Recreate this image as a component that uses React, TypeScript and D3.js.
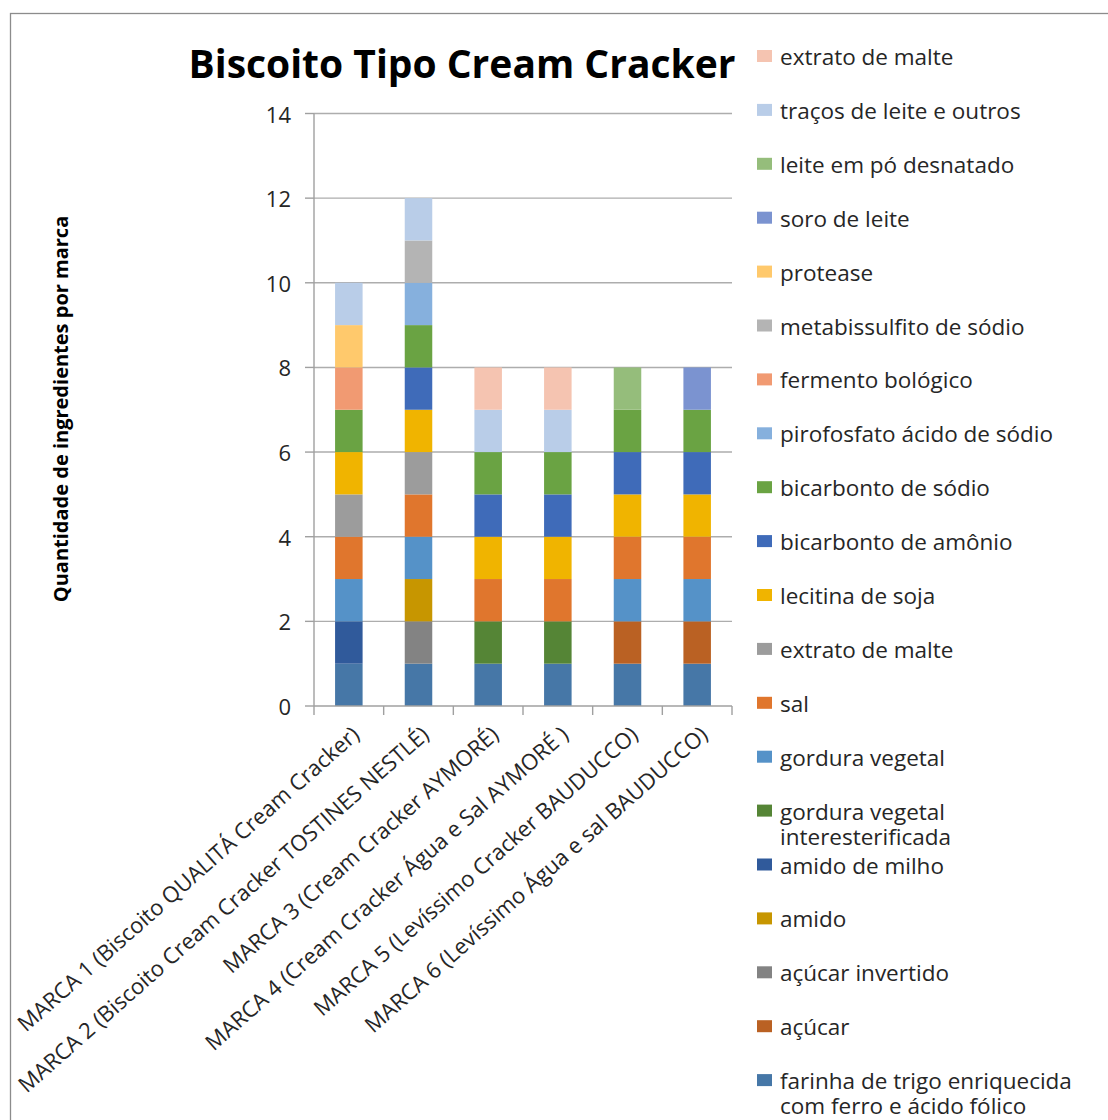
import React from "react";
import * as d3 from "d3";

const brands = [
  "MARCA 1 (Biscoito QUALITÁ Cream Cracker)",
  "MARCA 2 (Biscoito Cream Cracker TOSTINES NESTLÉ)",
  "MARCA 3 (Cream Cracker AYMORÉ)",
  "MARCA 4 (Cream Cracker Água e Sal AYMORÉ )",
  "MARCA 5 (Levíssimo Cracker BAUDUCCO)",
  "MARCA 6 (Levíssimo Água e sal BAUDUCCO)",
];

// stack order: bottom -> top
const seriesNames = [
  "farinha de trigo enriquecida\ncom ferro e ácido fólico",
  "açúcar",
  "açúcar invertido",
  "amido",
  "amido de milho",
  "gordura vegetal\ninteresterificada",
  "gordura vegetal",
  "sal",
  "extrato de malte",
  "lecitina de soja",
  "bicarbonto de amônio",
  "bicarbonto de sódio",
  "pirofosfato ácido de sódio",
  "fermento bológico",
  "metabissulfito de sódio",
  "protease",
  "soro de leite",
  "leite em pó desnatado",
  "traços de leite e outros",
  "extrato de malte",
];

const seriesColors = [
  "#4677A7",
  "#BA6123",
  "#838383",
  "#C79600",
  "#305A9B",
  "#558536",
  "#5592C8",
  "#E0762D",
  "#9C9C9C",
  "#F0B400",
  "#3F6BB9",
  "#6AA343",
  "#86B0DD",
  "#F19A72",
  "#B4B4B4",
  "#FFC96C",
  "#7B93D0",
  "#95BD7B",
  "#B9CDE8",
  "#F5C4B1",
];

const farinha = [1, 1, 1, 1, 1, 1];
const acucar = [0, 0, 0, 0, 1, 1];
const acucarInvertido = [0, 1, 0, 0, 0, 0];
const amido = [0, 1, 0, 0, 0, 0];
const amidoMilho = [1, 0, 0, 0, 0, 0];
const gorduraInter = [0, 0, 1, 1, 0, 0];
const gordura = [1, 1, 0, 0, 1, 1];
const sal = [1, 1, 1, 1, 1, 1];
const extratoMalteCinza = [1, 1, 0, 0, 0, 0];
const lecitina = [1, 1, 1, 1, 1, 1];
const bicAmonio = [0, 1, 1, 1, 1, 1];
const bicSodio = [1, 1, 1, 1, 1, 1];
const pirofosfato = [0, 1, 0, 0, 0, 0];
const fermento = [1, 0, 0, 0, 0, 0];
const metabissulfito = [0, 1, 0, 0, 0, 0];
const protease = [1, 0, 0, 0, 0, 0];
const soro = [0, 0, 0, 0, 0, 1];
const leitePo = [0, 0, 0, 0, 1, 0];
const tracos = [1, 1, 1, 1, 0, 0];
const extratoMalte = [0, 0, 1, 1, 0, 0];

const seriesValues = [
  farinha, acucar, acucarInvertido, amido, amidoMilho, gorduraInter, gordura, sal,
  extratoMalteCinza, lecitina, bicAmonio, bicSodio, pirofosfato, fermento,
  metabissulfito, protease, soro, leitePo, tracos, extratoMalte,
];

const yTicks = [0, 2, 4, 6, 8, 10, 12, 14];

const FONT = "'Open Sans', 'Noto Sans', sans-serif";

export default function App() {
  const W = 1108;
  const H = 1120;
  const plotL = 314;
  const plotR = 732;
  const plotB = 706;
  const plotT = 113.5;

  const x = d3.scaleBand<string>().domain(brands).range([plotL, plotR]).padding(0);
  const y = d3.scaleLinear().domain([0, 14]).range([plotB, plotT]);
  const barW = x.bandwidth() * 0.395;

  const rows = brands.map((b, i) => {
    const r: Record<string, number | string> = { brand: b };
    seriesValues.forEach((vals, k) => (r["s" + k] = vals[i]));
    return r;
  });
  const keys = seriesValues.map((_, k) => "s" + k);
  const stacked = d3.stack<any>().keys(keys)(rows as any);

  const legendOrder = seriesNames.map((_, k) => k).reverse();
  const legY0 = 56;
  const legStep = 53.9;

  return (
    <svg
      width={W}
      height={H}
      style={{ position: "absolute", left: 0, top: 0, background: "#fff" }}
      fontFamily={FONT}
    >
      <rect x={10.5} y={13.5} width={W + 10} height={H + 10} fill="#fff" stroke="#8C8C8C" strokeWidth={1.3} />

      {/* gridlines */}
      {yTicks.filter((t) => t > 0).map((t) => (
        <line key={t} x1={plotL} x2={plotR} y1={y(t)} y2={y(t)} stroke="#ADADAD" strokeWidth={1.4} />
      ))}

      {/* bars */}
      {stacked.map((layer, k) => (
        <g key={k} fill={seriesColors[k]}>
          {layer.map((d, i) =>
            d[1] - d[0] > 0 ? (
              <rect
                key={i}
                x={(x(brands[i]) as number) + x.bandwidth() / 2 - barW / 2}
                y={y(d[1])}
                width={barW}
                height={y(d[0]) - y(d[1])}
              />
            ) : null
          )}
        </g>
      ))}

      {/* axes */}
      <line x1={plotL} x2={plotL} y1={plotT} y2={plotB} stroke="#A0A0A0" strokeWidth={1.4} />
      <line x1={plotL} x2={plotR} y1={plotB} y2={plotB} stroke="#A0A0A0" strokeWidth={1.4} />
      {yTicks.map((t) => (
        <g key={t}>
          <line x1={plotL - 9} x2={plotL} y1={y(t)} y2={y(t)} stroke="#A0A0A0" strokeWidth={1.4} />
          <text x={291} y={y(t)} textAnchor="end" dominantBaseline="central" fontSize={22} fill="#262626">
            {t}
          </text>
        </g>
      ))}
      {[...brands.map((b) => x(b) as number), plotR].map((px, i) => (
        <line key={i} x1={px} x2={px} y1={plotB} y2={plotB + 9} stroke="#A0A0A0" strokeWidth={1.4} />
      ))}

      {/* x labels */}
      {brands.map((b) => {
        const cx = (x(b) as number) + x.bandwidth() / 2 + 6;
        return (
          <text
            key={b}
            transform={`translate(${cx},${plotB + 24}) rotate(-41.5)`}
            textAnchor="end"
            dominantBaseline="central"
            fontSize={22}
            fill="#262626"
          >
            {b}
          </text>
        );
      })}

      {/* y title */}
      <text
        transform={`translate(60,409) rotate(-90)`}
        textAnchor="middle"
        dominantBaseline="central"
        fontSize={20}
        fontWeight="bold"
        fill="#000"
      >
        Quantidade de ingredientes por marca
      </text>

      {/* title */}
      <text x={462} y={62} textAnchor="middle" dominantBaseline="central" fontSize={39} fontWeight="bold" fill="#000">
        Biscoito Tipo Cream Cracker
      </text>

      {/* legend */}
      {legendOrder.map((k, i) => {
        const cy = legY0 + i * legStep;
        const lines = seriesNames[k].split("\n");
        return (
          <g key={i}>
            <rect x={757} y={cy - 6} width={15} height={12} fill={seriesColors[k]} />
            <text x={780} y={cy} dominantBaseline="central" fontSize={22.5} fill="#262626">
              {lines.map((ln, j) => (
                <tspan key={j} x={780} dy={j === 0 ? 0 : 25}>
                  {ln}
                </tspan>
              ))}
            </text>
          </g>
        );
      })}
    </svg>
  );
}
